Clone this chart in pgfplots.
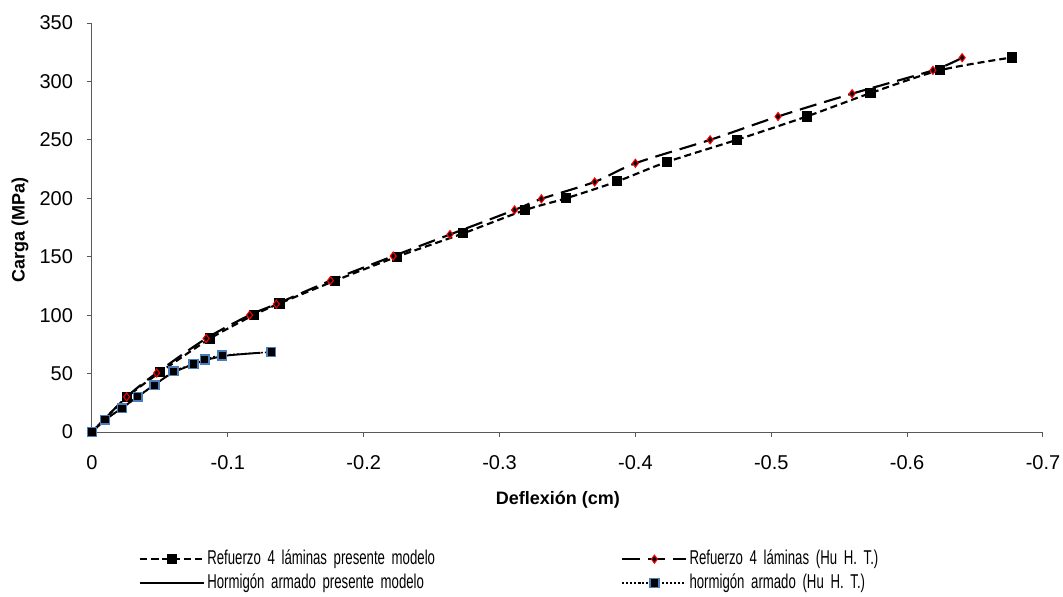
\documentclass[border=0pt]{standalone}
\usepackage{fontspec}
\setmainfont{Liberation Sans}
\newfontfamily\legfont[FakeStretch=0.66]{Liberation Sans}
\usepackage{pgfplots}
\pgfplotsset{compat=1.18}

% refuerzo 4 laminas, presente modelo
\pgfplotstableread{
x y
0 0
-0.026 30
-0.050 51
-0.087 80
-0.119 100
-0.138 110
-0.179 129.5
-0.2246 150
-0.2733 170
-0.319 190
-0.349 200
-0.3867 214.5
-0.423 231
-0.4745 250
-0.526 270
-0.573 290
-0.624 309.5
-0.677 320.5
}\refmodelo

% refuerzo 4 laminas, Hu H. T.
\pgfplotstableread{
x y
0 0
-0.0255 30
-0.0476 50.5
-0.084 80
-0.116 100
-0.1357 109.5
-0.1755 129.5
-0.2217 150.5
-0.2635 169
-0.311 190
-0.3308 199.5
-0.370 214
-0.400 230
-0.455 250
-0.505 270
-0.5595 289.5
-0.619 309.5
-0.6405 320.3
}\refhu

% hormigon armado, presente modelo
\pgfplotstableread{
x y
0 0
-0.010 10.5
-0.022 20.5
-0.034 30.5
-0.046 40.5
-0.060 51
-0.075 58
-0.085 62
-0.100 65.5
-0.124 67.8
}\hormodelo

% hormigon armado, Hu H. T.
\pgfplotstableread{
x y
0 0
-0.0096 10.6
-0.022 20.3
-0.0336 30.2
-0.046 40
-0.060 51.9
-0.0747 58
-0.083 62
-0.096 65.5
-0.132 68.4
}\horhu

\begin{document}
\begin{tikzpicture}
\useasboundingbox (-69pt,-123pt) rectangle (728.25pt,324pt);
\begin{axis}[
    at={(0,0)}, anchor=south west,
    scale only axis,
    width=713.25pt, height=306.75pt,
    axis lines=left,
    axis line style={black!65, line width=0.75pt, -},
    x dir=reverse,
    xmin=-0.7, xmax=0,
    ymin=0, ymax=350,
    xtick={0,-0.1,-0.2,-0.3,-0.4,-0.5,-0.6,-0.7},
    ytick={0,50,...,350},
    tick align=outside,
    major tick length=3.75pt,
    tick style={black!65, line width=0.75pt},
    /pgf/number format/assume math mode=true,
    /pgf/number format/fixed,
    ticklabel style={font=\fontsize{15}{18}\selectfont},
    yticklabel style={xshift=-7pt},
    xticklabel style={yshift=-10pt},
    xlabel={Deflexión (cm)},
    ylabel={Carga (MPa)},
    label style={font=\fontsize{13.5}{16}\selectfont\bfseries},
    xlabel style={at={(axis description cs:0.49,-0.166)}, anchor=center},
    ylabel style={at={(axis description cs:-0.0757,0.494)}, anchor=center, rotate=0},
    clip=false,
    legend columns=2,
    legend cell align=left,
    legend image code/.code={\draw[mark repeat=2,mark phase=2,#1] plot coordinates {(0pt,0pt) (24pt,0pt) (48pt,0pt)};},
    legend style={draw=none, fill=none,
        at={(axis description cs:0.0452,-0.276)}, anchor=north west,
        font=\legfont\fontsize{15}{18}\selectfont,
        row sep=1pt,
        nodes={text height=11pt, text depth=3pt, inner sep=1.5pt, text width=297pt, align=left},
        /tikz/every even column/.append style={column sep=12pt}},
]
\addplot[black, line width=1.6pt, dash pattern=on 5.25pt off 3pt, smooth,
    mark=square*, mark size=3pt, mark options={solid, fill=black}]
    table[x=x, y=y] {\refmodelo};
\addlegendentry{Refuerzo 4 láminas presente modelo}
\addplot[black, line width=1.6pt, dash pattern=on 13pt off 6pt, smooth,
    mark=diamond*, mark size=3pt, mark options={solid, fill=black, draw=red, line width=0.8pt}]
    table[x=x, y=y] {\refhu};
\addlegendentry{Refuerzo 4 láminas (Hu H. T.)}
\addplot[black, line width=1.4pt, smooth, no marks]
    table[x=x, y=y] {\hormodelo};
\addlegendentry{Hormigón armado presente modelo}
\addplot[black, line width=1.2pt, dash pattern=on 1.5pt off 1.5pt, smooth,
    mark=square*, mark size=3.3pt, mark options={solid, fill=black, draw={rgb,255:red,74;green,126;blue,187}, line width=1pt}]
    table[x=x, y=y] {\horhu};
\addlegendentry{hormigón armado (Hu H. T.)}
\end{axis}
\end{tikzpicture}
\end{document}
